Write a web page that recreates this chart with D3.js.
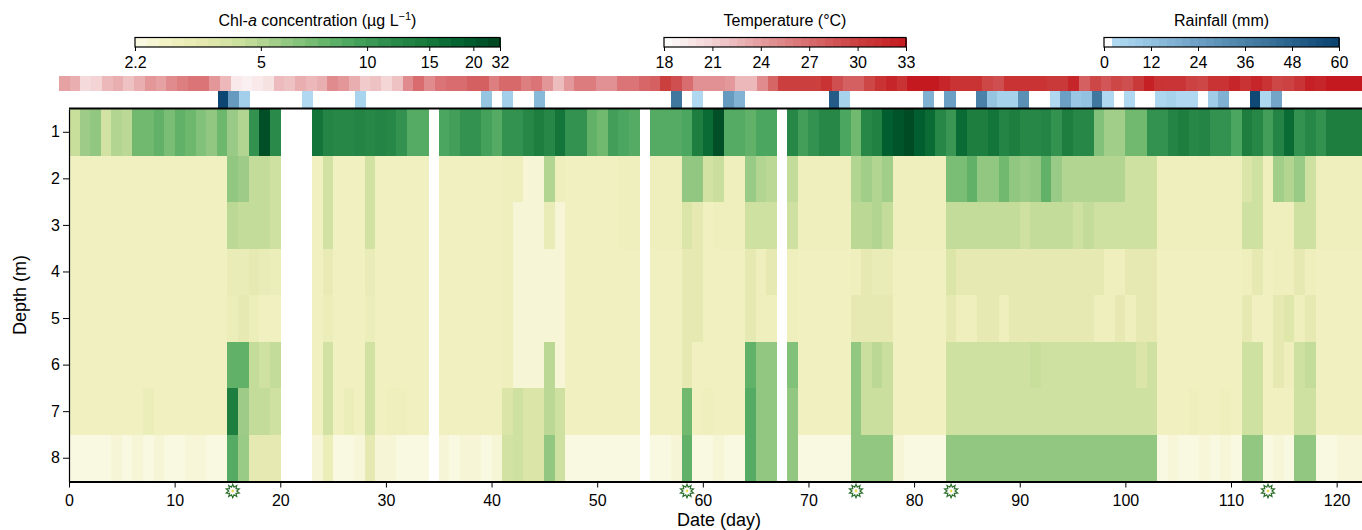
<!DOCTYPE html>
<html>
<head>
<meta charset="utf-8">
<script src="https://cdn.jsdelivr.net/npm/d3@7"></script>
<style>
  body { margin: 0; background: #fff; }
  svg { display: block; font-family: "Liberation Sans", Arial, sans-serif; }
</style>
</head>
<body>
<div id="root"></div>
<script>
// depth rows (m) and daily Chl-a (µg/L), null = no sample
const depths = [1, 2, 3, 4, 5, 6, 7, 8];

const chlDepth1 = [
  4.5,5.6,6,4.1,5,4.8,7.2,7.2,7.9,6.8,
  7.9,7.3,6.5,6,7.3,5.7,5,11,25,12,
  null,null,null,15.5,13,12.5,12.5,13,12.5,13,
  12.5,11,8.5,8.5,null,9,9.7,11,11,9.5,
  8.5,11,11,12.5,14,12.5,15.5,11,11,7.9,
  7.2,9.7,9,8.5,null,8.5,8.5,8.5,9,14,
  17,25,8.5,8.5,7.9,9,9,null,12.5,9.7,
  11,12.5,12.5,9,7.2,12.5,13.5,19,22,27,
  19,17,12.5,10.5,17,14,14,15.5,13,14,
  12.5,12.5,13,11,14,12.5,12.5,6.5,5.5,5.5,
  7.2,7.2,11,11,13,14,12.5,13,11,11,
  9,14,12.5,9.7,13,17,11,12.5,11,14,
  14,14,14];
const chlDepth2 = [
  2.8,2.8,2.8,2.8,2.8,2.8,2.8,2.8,2.8,2.8,
  2.8,2.8,2.8,2.8,2.8,6,5.6,4.6,4.6,4.2,
  null,null,null,2.8,4.1,2.8,2.8,2.8,4.1,2.8,
  2.8,2.8,2.8,2.8,null,2.8,2.8,2.8,2.8,2.8,
  2.8,2.9,2.9,2.45,2.45,5,2.9,2.8,2.8,2.8,
  2.8,2.8,2.9,2.9,null,2.9,2.9,2.9,6,6,
  4.1,4.4,2.9,2.9,5.7,5,4.8,null,4.6,2.9,
  2.9,2.9,2.9,2.9,5,5.5,5,5.5,2.9,2.9,
  2.9,2.9,2.9,6.8,6.8,7.9,6,6,7.2,6,
  5.7,6,7.9,5.7,5,5,5,5,5,5,
  4.2,4.2,4.2,2.9,2.9,2.9,2.9,2.9,2.9,2.9,
  2.9,3.8,4.2,2.9,5.5,5,5.7,4.2,2.9,2.9,
  2.9,2.9,2.9];
const chlDepth3 = [
  2.8,2.8,2.8,2.8,2.8,2.8,2.8,2.8,2.8,2.8,
  2.8,2.8,2.8,2.8,2.8,4.8,4.6,4.6,4.6,4.2,
  null,null,null,2.8,4.1,2.8,2.8,2.8,4.1,2.8,
  2.8,2.8,2.8,2.8,null,2.8,2.8,2.8,2.8,2.8,
  2.8,2.9,2.45,2.45,2.45,3.1,2.45,2.8,2.8,2.8,
  2.8,2.8,2.9,2.9,null,2.9,2.9,2.9,3.8,3.3,
  2.8,2.9,2.9,2.9,4.2,4.2,4.2,null,4.2,2.9,
  2.9,2.9,2.9,2.9,4.8,4.8,5,4.6,2.9,2.9,
  2.9,2.9,2.9,4.6,4.6,4.6,4.6,4.6,4.6,4.6,
  4.2,4.6,4.6,4.6,4.6,4.2,4.6,4.2,4.2,4.2,
  4.2,4.2,4.2,2.9,2.9,2.9,2.9,2.9,2.9,2.9,
  2.9,4.2,4.2,2.9,2.9,2.9,4.2,4.2,2.9,2.9,
  2.9,2.9,2.9];
const chlDepth4 = [
  2.8,2.8,2.8,2.8,2.8,2.8,2.8,2.8,2.8,2.8,
  2.8,2.8,2.8,2.8,2.8,3.1,3.1,3.3,3.1,3,
  null,null,null,2.8,3.2,2.8,2.8,2.8,3.1,2.8,
  2.8,2.8,2.8,2.8,null,2.8,2.8,2.8,2.8,2.8,
  2.8,2.9,2.45,2.45,2.45,2.45,2.45,2.8,2.8,2.8,
  2.8,2.8,2.8,2.8,null,2.8,2.8,2.8,3.3,3.3,
  2.8,2.8,2.8,2.8,3.3,2.9,3.3,null,2.9,2.8,
  2.8,2.8,2.8,2.8,2.9,3.3,3.1,3.1,2.8,2.8,
  2.8,2.8,2.8,3.8,3.3,3.3,3.3,3.3,3.3,3.3,
  3.3,3.3,3.3,3.3,3.3,3.3,3.3,3.3,2.9,2.9,
  3.3,3.3,3.3,2.8,2.8,2.8,2.8,2.8,2.8,2.8,
  2.8,2.9,3.3,2.8,2.9,2.9,3.3,2.9,2.8,2.8,
  2.8,2.8,2.8];
const chlDepth5 = [
  2.8,2.8,2.8,2.8,2.8,2.8,2.8,2.8,2.8,2.8,
  2.8,2.8,2.8,2.8,2.8,3,3.3,3,2.8,2.8,
  null,null,null,2.8,3,2.8,2.8,2.8,3,2.8,
  2.8,2.8,2.8,2.8,null,2.8,2.8,2.8,2.8,2.8,
  2.8,2.9,2.45,2.45,2.45,2.45,2.45,2.8,2.8,2.8,
  2.8,2.8,2.8,2.8,null,2.8,2.8,2.8,3.3,3.3,
  2.8,2.8,2.8,2.8,3.3,2.9,2.9,null,2.9,2.8,
  2.8,2.8,2.8,2.8,3.3,3.3,3.3,3.3,2.8,2.8,
  2.8,2.8,2.8,3.3,2.9,2.9,3.3,3.3,2.9,3.3,
  3.3,3.3,3.3,3.3,3.3,3.3,3.3,2.9,2.9,3.3,
  2.9,3.3,3.3,2.8,2.8,2.8,2.8,2.8,2.8,2.8,
  2.8,3.3,2.8,2.8,3.3,3.6,2.9,3.3,2.8,2.8,
  2.8,2.8,2.8];
const chlDepth6 = [
  2.8,2.8,2.8,2.8,2.8,2.8,2.8,2.8,2.8,2.8,
  2.8,2.8,2.8,2.8,2.8,7.9,7.9,4.6,4.2,4.6,
  null,null,null,2.8,4.1,2.8,2.8,2.8,4.1,2.8,
  2.8,2.8,2.8,2.8,null,2.8,2.8,2.8,2.8,2.8,
  2.8,2.9,2.45,2.45,2.45,4.8,2.45,2.8,2.8,2.8,
  2.8,2.8,2.8,2.8,null,2.8,2.8,2.8,3.3,2.8,
  2.8,2.8,2.8,2.8,7.9,6,6,null,6.5,2.8,
  2.8,2.8,2.8,2.8,6,4.4,4.8,4.4,2.8,2.8,
  2.8,2.8,2.8,4.2,4.2,4.2,4.2,4.2,4.2,4.2,
  4.2,4.5,4.2,4.2,4.2,4.2,4.2,4.2,4.2,4.2,
  4.2,3.8,4.2,2.8,2.8,2.8,2.8,2.8,2.8,2.8,
  2.8,4.2,4.2,2.8,3.3,2.9,4.2,4.6,2.8,2.8,
  2.8,2.8,2.8];
const chlDepth7 = [
  2.8,2.8,2.8,2.8,2.8,2.8,2.8,3,2.8,2.8,
  2.8,2.8,2.8,2.8,2.8,14,5.6,4.6,4.6,4.2,
  null,null,null,2.8,4.1,2.8,3,2.8,4.1,2.8,
  2.9,2.9,2.8,2.8,null,2.8,2.8,2.8,2.8,2.8,
  2.8,3.8,4.2,3.8,3.8,4.8,4.2,2.8,2.8,2.8,
  2.8,2.8,2.8,2.8,null,2.8,2.8,2.8,7.2,2.8,
  2.9,2.8,2.8,2.8,8.5,6,6,null,6,2.8,
  2.8,2.8,2.8,2.8,6,4.4,4.4,4.4,2.8,2.8,
  2.8,2.8,2.8,4.2,4.2,4.2,4.2,4.2,4.2,4.2,
  4.2,4.2,4.2,4.2,4.2,4.2,4.2,4.2,4.2,4.2,
  4.2,4.2,4.2,2.8,2.8,2.8,2.9,2.8,2.8,2.9,
  2.8,4.2,4.2,2.8,2.8,2.8,4.2,4.2,2.8,2.8,
  2.8,2.8,2.8];
const chlDepth8 = [
  2.3,2.3,2.3,2.3,2.45,2.3,2.45,2.3,2.45,2.3,
  2.3,2.4,2.4,2.3,2.3,8.5,5.7,3.3,3.3,3.3,
  null,null,null,2.45,3,2.3,2.3,2.4,3.3,2.45,
  2.45,2.3,2.3,2.3,null,2.45,2.3,2.45,2.45,2.3,
  2.45,4.1,4.2,3.8,3.8,6,4.2,2.3,2.3,2.3,
  2.3,2.3,2.3,2.3,null,2.3,2.3,2.45,7.9,2.3,
  2.3,2.45,2.3,2.3,8.5,6,6,null,6,2.3,
  2.3,2.3,2.3,2.3,6,6,6,6,2.45,2.3,
  2.3,2.3,2.3,6,6,6,6,6,6,6,
  6,6,6,6,6,6,6,6,6,6,
  6,6,6,2.3,2.4,2.3,2.3,2.4,2.3,2.4,
  2.3,6,6,2.3,2.4,2.3,6,6,2.3,2.3,
  2.4,2.4,2.4];

const chlRows = [chlDepth1, chlDepth2, chlDepth3, chlDepth4, chlDepth5, chlDepth6, chlDepth7, chlDepth8];

// daily air temperature (°C), own strip
const temperature = [
  23.7,23,20.5,21,22.5,23,22,23,24.3,23.7,
  25,25.8,26.5,26.5,24.3,22.5,19.5,19,19.5,20,
  22.3,22,23,22.5,23,25,24.3,23,21.5,22,
  20.8,22,25,27,25,26.5,27,27,27.8,27.8,
  25.8,27.2,27.2,25.8,26.5,24.4,22.2,24.2,26,26,
  24.7,24.7,26.5,26.5,27.4,27.8,30,29,27,24.7,
  24.7,24.7,24.2,22.5,22.5,25,27.5,30,30,30,
  30,31,29,27.8,27.8,29.5,31,32,31,33,
  33,33,32,31,31,31,29.5,29,31,31,
  31,31,30.5,30.5,32,27.8,29.5,28.5,29.5,29,
  30.5,32.5,31,30.8,30.8,29.8,29.5,31,31,32,
  31,32,31,29.5,29.8,30.8,32.5,32,33,33,
  33,33];

// daily rainfall (mm)
const rainfall = [
  0,0,0,0,0,0,0,0,0,0,
  0,0,0,0,58,26,7,0,0,0,
  0,0,3,0,0,0,0,5,0,0,
  0,0,0,0,0,0,0,0,0,11,
  0,7,0,0,15,0,0,0,0,0,
  0,0,0,0,0,0,0,40,0,3,
  0,0,26,17,0,0,0,0,0,0,
  0,0,50,6,0,0,0,0,0,0,
  0,18,0,24,0,0,36,11,6,6,
  30,0,0,3,24,10,12,40,3,0,
  3,0,0,4,6,3,3,0,8,18,
  0,0,57,4,22,0,0,0,0,0,
  0,0,0];

const markerDays = [15.5, 58.5, 74.5, 83.5, 113.5];

const dayTicks = [0, 10, 20, 30, 40, 50, 60, 70, 80, 90, 100, 110, 120];
const chlTicks = [2.2, 5, 10, 15, 20, 32];
const tempTicks = [18, 21, 24, 27, 30, 33];
const rainTicks = [0, 12, 24, 36, 48, 60];

const root = document.getElementById('root');
const width = 1362;
const height = 530;
const fontSize = 16;

const svg = d3.select(root)
    .append('svg')
    .attr('width', width)
    .attr('height', height);

// Scales
const x = d3.scaleLinear().domain([0, 122.4]).range([69, 1362]);
const xRain = d3.scaleLinear().domain([0, 122.4]).range([70.2, 1359.5]);
const xTemp = d3.scaleLinear().domain([0, 122]).range([59, 1369]);
const y = d3.scaleBand().domain(depths).range([109, 481.5]);

// Colours
const chlNorm = d3.scaleLog().domain([2.2, 20, 32]).range([0, 0.927, 1]).clamp(true);
const chlInterp = d3.piecewise(d3.interpolateRgb, [
    '#fbfae8', '#f1f0c0', '#e2e8ac', '#c8de9b', '#9acb86', '#6fb96f',
    '#48a45d', '#2d8c4c', '#187a3c', '#006030', '#00441f']);
const chlColor = v => chlInterp(chlNorm(v));

const tempColor = d3.scaleLinear()
    .domain([18, 21, 24, 27, 30, 33])
    .range(['#ffffff', '#f3d3d4', '#e49c9e', '#d86c6e', '#cb3f3f', '#c41a1f'])
    .clamp(true);

const rainScale = d3.scaleLinear()
    .domain([2, 12, 24, 36, 48, 60])
    .range(['#b3dcf3', '#93c2e0', '#6c9fc4', '#4a81a8', '#29628c', '#08406e'])
    .clamp(true);
const rainColor = v => v < 1.5 ? '#ffffff' : rainScale(v);

// Heatmap
const cells = [];
chlRows.forEach((row, r) => {
    row.forEach((v, d) => {
        if (v !== null) cells.push({ depth: depths[r], day: d, value: v });
    });
});

svg.append('g')
    .attr('shape-rendering', 'crispEdges')
    .selectAll('rect')
    .data(cells)
    .join('rect')
    .attr('x', d => x(d.day))
    .attr('y', d => y(d.depth))
    .attr('width', d => x(d.day + 1) - x(d.day) + 0.5)
    .attr('height', y.bandwidth() + 0.5)
    .attr('fill', d => chlColor(d.value));

// Temperature strip
svg.append('g')
    .attr('shape-rendering', 'crispEdges')
    .selectAll('rect')
    .data(temperature)
    .join('rect')
    .attr('x', (d, i) => xTemp(i))
    .attr('y', 76)
    .attr('width', (d, i) => xTemp(i + 1) - xTemp(i) + 0.5)
    .attr('height', 15)
    .attr('fill', d => tempColor(d));

// Rainfall strip
svg.append('g')
    .attr('shape-rendering', 'crispEdges')
    .selectAll('rect')
    .data(rainfall.map((v, i) => ({ day: i, value: v })).filter(d => d.value > 0))
    .join('rect')
    .attr('x', d => xRain(d.day))
    .attr('y', 91)
    .attr('width', d => xRain(d.day + 1) - xRain(d.day) + 0.5)
    .attr('height', 17.5)
    .attr('fill', d => rainColor(d.value));

// Axes
const xAxis = d3.axisBottom(x)
    .tickValues(dayTicks)
    .tickSize(6)
    .tickSizeOuter(0)
    .tickPadding(7);
const gx = svg.append('g')
    .attr('transform', `translate(0,${481.5})`)
    .call(xAxis);
gx.select('.domain').attr('stroke-width', 2);

const yAxis = d3.axisLeft(y)
    .tickSize(6)
    .tickSizeOuter(0)
    .tickPadding(3);
const gy = svg.append('g')
    .attr('transform', `translate(69,0)`)
    .call(yAxis);
gy.select('.domain').attr('stroke-width', 1.2);

[gx, gy].forEach(g => {
    g.attr('font-size', fontSize).attr('font-family', null);
    g.selectAll('.tick line').attr('stroke', '#000').attr('stroke-width', 1);
    g.selectAll('.tick text').attr('fill', '#000');
});

// top frame line
svg.append('line')
    .attr('x1', 69).attr('x2', width)
    .attr('y1', 108.5).attr('y2', 108.5)
    .attr('stroke', '#000')
    .attr('stroke-width', 2);

svg.append('text')
    .attr('text-anchor', 'middle')
    .attr('transform', `translate(719, 526)`)
    .attr('font-size', 18)
    .text('Date (day)');

svg.append('text')
    .attr('text-anchor', 'middle')
    .attr('transform', `translate(26, 295)rotate(-90)`)
    .attr('font-size', 18)
    .text('Depth (m)');

// Sampling markers
const starPath = (() => {
    const pts = [];
    for (let i = 0; i < 20; i++) {
        const r = i % 2 ? 4.0 : 6.8;
        const a = Math.PI * i / 10;
        pts.push([r * Math.sin(a), -r * Math.cos(a)]);
    }
    return 'M' + pts.map(p => p.join(',')).join('L') + 'Z';
})();

const stars = svg.append('g')
    .selectAll('g')
    .data(markerDays)
    .join('g')
    .attr('transform', d => `translate(${x(d)},491)`);
stars.append('path')
    .attr('d', starPath)
    .attr('fill', '#ffffff')
    .attr('stroke', '#2c6e2c')
    .attr('stroke-width', 1.2);
stars.append('circle')
    .attr('r', 1.4)
    .attr('fill', '#e6dc5a');

// Colour bars
const barY = 37.5;
const barH = 9.5;
const nBlocks = 30;

const colorbar = (scale, ticks, colorAt, titleFn) => {
    const [x0, x1] = [scale.range()[0], scale.range()[scale.range().length - 1]];
    const g = svg.append('g');
    const blocks = d3.range(nBlocks);
    g.append('g')
        .attr('shape-rendering', 'crispEdges')
        .selectAll('rect')
        .data(blocks)
        .join('rect')
        .attr('x', k => x0 + (x1 - x0) * k / nBlocks)
        .attr('y', barY)
        .attr('width', (x1 - x0) / nBlocks + 0.5)
        .attr('height', barH)
        .attr('fill', k => colorAt((k + 0.5) / nBlocks));
    g.append('rect')
        .attr('x', x0).attr('y', barY)
        .attr('width', x1 - x0).attr('height', barH)
        .attr('fill', 'none')
        .attr('stroke', '#000')
        .attr('stroke-width', 1.2);
    const ax = g.append('g')
        .attr('transform', `translate(0,${barY + barH})`)
        .call(d3.axisBottom(scale).tickValues(ticks).tickSize(4).tickPadding(6).tickFormat(d => d));
    ax.select('.domain').remove();
    ax.attr('font-size', fontSize).attr('font-family', null);
    ax.selectAll('.tick line').attr('stroke', '#000');
    ax.selectAll('.tick text').attr('fill', '#000');
    const title = g.append('text')
        .attr('x', (x0 + x1) / 2)
        .attr('y', 26)
        .attr('text-anchor', 'middle')
        .attr('font-size', fontSize);
    titleFn(title);
};

const chlBar = d3.scaleLog().domain([2.2, 20, 32]).range([135, 135 + 0.927 * 365, 500]);
colorbar(chlBar, chlTicks, f => chlInterp(f), t => {
    t.append('tspan').text('Chl-');
    t.append('tspan').attr('font-style', 'italic').text('a');
    t.append('tspan').text(' concentration (µg L');
    t.append('tspan').attr('font-size', 11).attr('dy', -6).text('−1');
    t.append('tspan').attr('dy', 6).text(')');
});

const tempBar = d3.scaleLinear().domain([18, 33]).range([664, 906]);
colorbar(tempBar, tempTicks, f => tempColor(18 + 15 * f), t => t.text('Temperature (°C)'));

const rainBar = d3.scaleLinear().domain([0, 60]).range([1104, 1339]);
colorbar(rainBar, rainTicks, f => rainColor(60 * f), t => t.text('Rainfall (mm)'));
</script>
</body>
</html>
